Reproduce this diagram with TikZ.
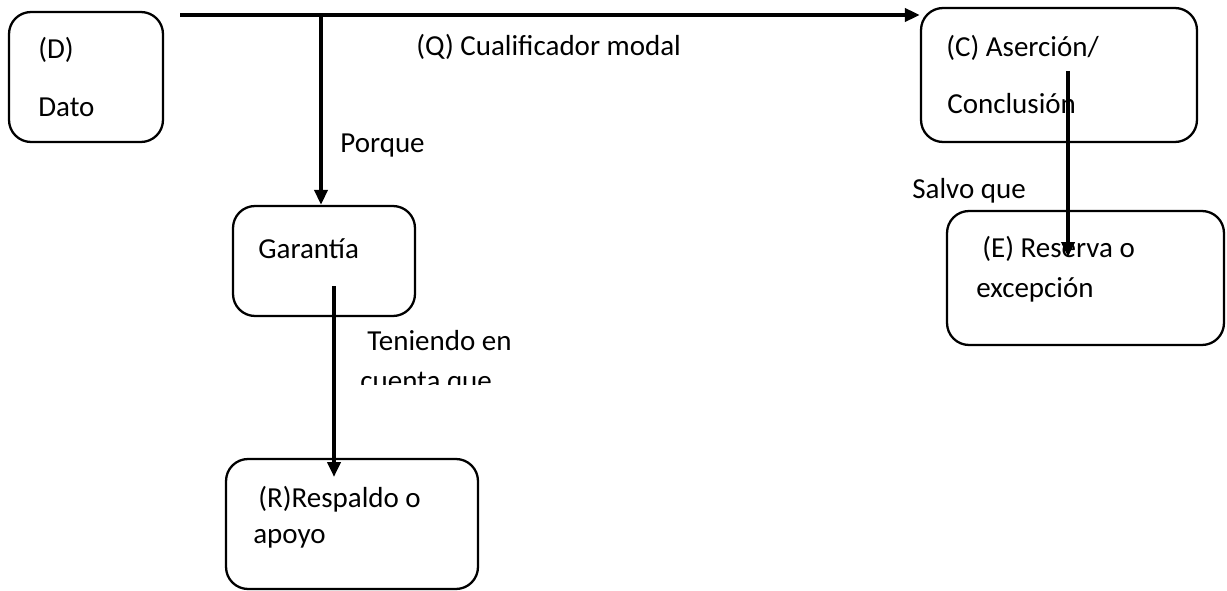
\documentclass[tikz,border=0pt]{standalone}
\usepackage{fontspec}
\setmainfont{Carlito}
\usetikzlibrary{positioning,arrows.meta}
\tikzset{>={Triangle[width=2.6mm,length=3mm]}}

\begin{document}
\begin{tikzpicture}[
    x=0.02cm, y=-0.02cm,
    box/.style={
        draw=black,
        line width=1.3pt,
        rounded corners=0.44cm
        },
    txt/.style={anchor=base west, inner sep=0pt},
    link/.style={->, line width=2.2pt},
    font=\fontsize{16.5}{20}\selectfont
    ]
    \useasboundingbox (0,0) rectangle (1227,591);

    % cajas
    \node[box, minimum width=3.08cm, minimum height=2.6cm]  (dato)      at (86,77)     {};
    \node[box, minimum width=5.52cm, minimum height=2.68cm] (conclusion) at (1059,75)  {};
    \node[box, minimum width=3.64cm, minimum height=2.2cm]  (garantia)  at (324,261)   {};
    \node[box, minimum width=5.54cm, minimum height=2.68cm] (reserva)   at (1085.5,278) {};
    \node[box, minimum width=5.04cm, minimum height=2.6cm]  (respaldo)  at (352,524)   {};

    % textos
    \node[txt] (d label)    at (38,59)   {(D)};
    \node[txt] (dato text)  at (38,117)  {Dato};
    \node[txt] (q label)    at (416,56)  {(Q) Cualificador modal};
    \node[txt] (porque)     at (340,153) {Porque};
    \node[txt] (c label)    at (946,57)  {(C) Aserción/};
    \node[txt] (conc text)  at (947,114) {Conclusión};
    \node[txt] (salvo)      at (912,199) {Salvo que};
    \node[txt] (e label)    at (982,257) {(E) Reserva o};
    \node[txt] (exc text)   at (976,297) {excepción};
    \node[txt] (gar text)   at (258,258) {Garantía};
    \node[txt] (teniendo)   at (367,350) {Teniendo en};
    \begin{scope}
    \clip (340,355) rectangle (560,384);
    \node[txt] (cuenta)     at (360,390) {cuenta que};
    \end{scope}
    \node[txt] (r label)    at (258,507) {(R)Respaldo o};
    \node[txt] (apoyo text) at (253,543) {apoyo};

    % conectores
    \coordinate (q start) at (180,15);
    \coordinate (branch)  at (321,15);
    \coordinate (c foot)  at (1068,71);
    \coordinate (e tip)   at (1068,257);
    \coordinate (g foot)  at (334,286);
    \coordinate (r tip)   at (334,477);

    \draw[line width=2.2pt] (q start) -- (branch);
    \draw[link] (branch) -- (conclusion.west |- q start);
    \draw[link] (branch) -- (branch |- garantia.north);
    \draw[link] (c foot) -- (e tip);
    \draw[link] (g foot) -- (r tip);
\end{tikzpicture}
\end{document}
